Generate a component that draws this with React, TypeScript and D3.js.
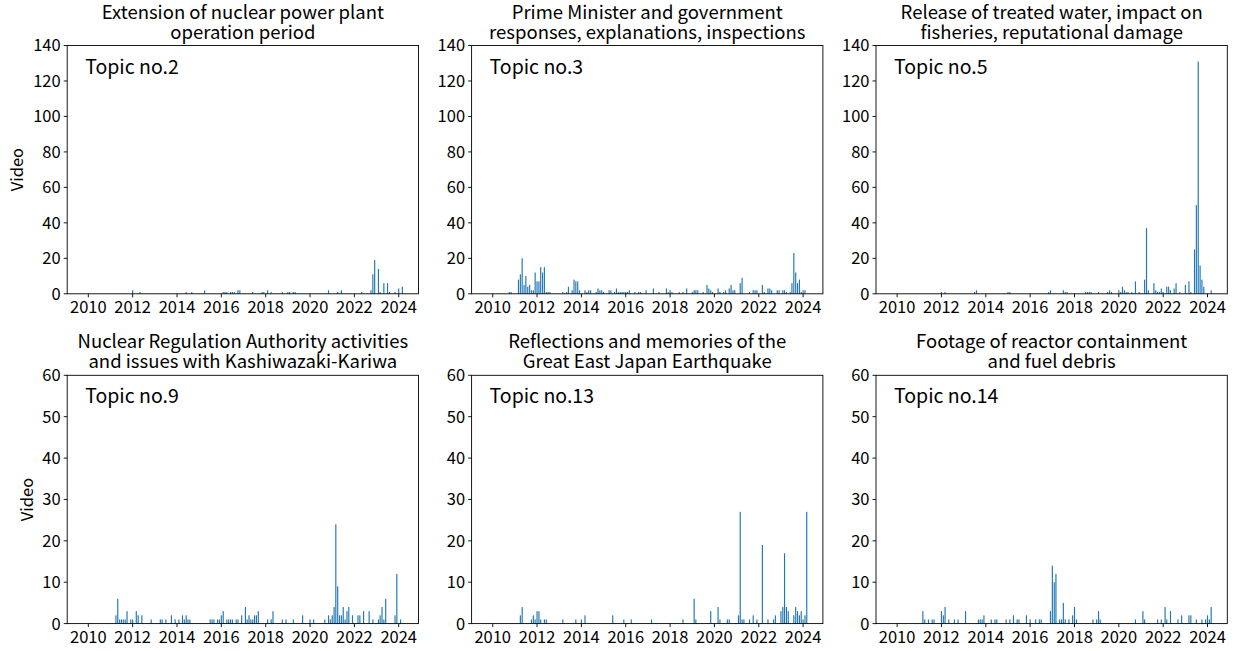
import React from "react";
import * as d3 from "d3";

type P = [string, number];

const topic2: P[] = [
  ["2012-01", 2], ["2012-05", 1], ["2014-06", 1], ["2014-09", 1], ["2015-04", 2],
  ["2016-02", 1], ["2016-03", 1], ["2016-04", 1], ["2016-06", 1], ["2016-07", 1], ["2016-08", 1],
  ["2016-10", 2], ["2016-11", 2], ["2017-06", 1], ["2017-11", 1], ["2017-12", 1], ["2018-02", 2],
  ["2018-04", 1], ["2018-10", 1], ["2019-01", 1], ["2019-02", 1], ["2019-04", 1], ["2019-05", 1],
  ["2020-11", 2], ["2021-04", 1], ["2021-06", 2], ["2022-05", 1], ["2022-10", 2], ["2022-11", 11],
  ["2022-12", 19], ["2023-02", 14], ["2023-03", 1], ["2023-05", 6], ["2023-07", 6], ["2023-08", 1],
  ["2023-11", 1], ["2024-01", 3], ["2024-03", 4],
];

const topic3: P[] = [
  ["2010-10", 1], ["2010-11", 1], ["2011-03", 8], ["2011-04", 11], ["2011-05", 20], ["2011-06", 5],
  ["2011-07", 10], ["2011-08", 4], ["2011-09", 5], ["2011-10", 2], ["2011-11", 2], ["2011-12", 12],
  ["2012-01", 7], ["2012-02", 7], ["2012-03", 15], ["2012-04", 12], ["2012-05", 15], ["2012-06", 1],
  ["2012-07", 1], ["2012-08", 1], ["2013-03", 1], ["2013-05", 1], ["2013-06", 4], ["2013-08", 2],
  ["2013-09", 8], ["2013-10", 7], ["2013-11", 7], ["2013-12", 2], ["2014-03", 2], ["2014-04", 1],
  ["2014-05", 2], ["2014-06", 2], ["2014-09", 1], ["2014-10", 3], ["2014-11", 2], ["2014-12", 2],
  ["2015-01", 1], ["2015-04", 2], ["2015-05", 2], ["2015-07", 1], ["2015-08", 3], ["2015-09", 1],
  ["2015-10", 1], ["2015-11", 1], ["2015-12", 1], ["2016-01", 1], ["2016-02", 1], ["2016-03", 2],
  ["2016-06", 1], ["2016-08", 1], ["2016-09", 1], ["2016-12", 2], ["2017-04", 3], ["2017-07", 1],
  ["2017-11", 3], ["2017-12", 1], ["2018-01", 2], ["2018-02", 1], ["2018-06", 1], ["2018-08", 1],
  ["2018-10", 3], ["2019-01", 1], ["2019-02", 2], ["2019-03", 2], ["2019-04", 2], ["2019-07", 1],
  ["2019-09", 5], ["2019-10", 3], ["2019-11", 2], ["2019-12", 1], ["2020-03", 3], ["2020-04", 1],
  ["2020-06", 1], ["2020-07", 2], ["2020-09", 3], ["2020-10", 5], ["2020-11", 2], ["2020-12", 2],
  ["2021-03", 6], ["2021-04", 9], ["2021-08", 1], ["2021-10", 2], ["2021-11", 2], ["2021-12", 2],
  ["2022-03", 5], ["2022-04", 1], ["2022-06", 3], ["2022-07", 3], ["2022-08", 2], ["2022-11", 2],
  ["2022-12", 2], ["2023-02", 2], ["2023-03", 2], ["2023-04", 1], ["2023-06", 1], ["2023-07", 6],
  ["2023-08", 23], ["2023-09", 12], ["2023-10", 6], ["2023-11", 8], ["2023-12", 1], ["2024-01", 2],
  ["2024-02", 2],
];

const topic5: P[] = [
  ["2012-01", 1], ["2012-03", 1], ["2013-07", 1], ["2013-08", 2], ["2015-01", 1], ["2015-02", 1],
  ["2016-11", 1], ["2016-12", 2], ["2017-07", 2], ["2017-08", 1], ["2017-09", 1], ["2018-07", 1],
  ["2018-08", 1], ["2018-09", 1], ["2018-10", 1], ["2019-02", 1], ["2019-07", 1], ["2019-08", 2],
  ["2019-09", 1], ["2020-01", 2], ["2020-02", 1], ["2020-03", 4], ["2020-04", 2], ["2020-05", 1],
  ["2020-06", 1], ["2020-08", 1], ["2020-10", 7], ["2020-12", 1], ["2021-03", 8], ["2021-04", 37],
  ["2021-05", 2], ["2021-08", 6], ["2021-09", 2], ["2021-10", 1], ["2021-11", 1], ["2021-12", 3],
  ["2022-01", 1], ["2022-03", 4], ["2022-04", 4], ["2022-05", 2], ["2022-07", 3], ["2022-08", 6],
  ["2022-10", 1], ["2023-01", 5], ["2023-03", 7], ["2023-04", 1], ["2023-06", 25], ["2023-07", 50],
  ["2023-08", 131], ["2023-09", 16], ["2023-10", 8], ["2023-11", 4], ["2024-03", 2],
];

const topic9: P[] = [
  ["2011-04", 2], ["2011-05", 6], ["2011-06", 1], ["2011-07", 1], ["2011-08", 1], ["2011-09", 1],
  ["2011-10", 3], ["2011-12", 1], ["2012-01", 1], ["2012-03", 3], ["2012-04", 2], ["2012-06", 2],
  ["2012-11", 1], ["2013-04", 1], ["2013-05", 1], ["2013-07", 1], ["2013-10", 2], ["2013-12", 1],
  ["2014-02", 1], ["2014-04", 2], ["2014-05", 1], ["2014-06", 2], ["2014-07", 1], ["2014-08", 1],
  ["2015-07", 1], ["2015-08", 1], ["2015-09", 1], ["2015-11", 1], ["2015-12", 1], ["2016-01", 2],
  ["2016-02", 3], ["2016-04", 1], ["2016-05", 1], ["2016-06", 1], ["2016-07", 1], ["2016-09", 1],
  ["2016-10", 1], ["2016-12", 2], ["2017-02", 4], ["2017-03", 1], ["2017-04", 2], ["2017-05", 1],
  ["2017-06", 1], ["2017-07", 2], ["2017-08", 2], ["2017-09", 3], ["2018-02", 1], ["2018-04", 1],
  ["2018-05", 3], ["2018-10", 1], ["2018-12", 1], ["2019-04", 1], ["2019-09", 2], ["2020-01", 1],
  ["2020-03", 1], ["2020-09", 1], ["2020-11", 2], ["2020-12", 1], ["2021-01", 2], ["2021-02", 4],
  ["2021-03", 24], ["2021-04", 9], ["2021-05", 2], ["2021-06", 2], ["2021-07", 4], ["2021-08", 1],
  ["2021-09", 3], ["2021-10", 4], ["2021-12", 2], ["2022-03", 2], ["2022-04", 2], ["2022-06", 3],
  ["2022-09", 3], ["2022-11", 1], ["2023-02", 1], ["2023-03", 2], ["2023-04", 4], ["2023-05", 1],
  ["2023-06", 6], ["2023-11", 2], ["2023-12", 12], ["2024-02", 1],
];

const topic13: P[] = [
  ["2011-04", 2], ["2011-05", 4], ["2011-10", 1], ["2011-11", 2], ["2011-12", 1], ["2012-01", 3],
  ["2012-02", 3], ["2012-03", 1], ["2012-05", 1], ["2012-06", 1], ["2013-03", 1], ["2013-10", 1],
  ["2014-01", 1], ["2014-03", 2], ["2015-06", 2], ["2015-12", 1], ["2016-04", 1], ["2017-03", 1],
  ["2018-08", 1], ["2019-02", 6], ["2019-03", 1], ["2019-11", 3], ["2020-03", 4], ["2020-04", 1],
  ["2020-08", 1], ["2020-09", 1], ["2021-02", 2], ["2021-03", 27], ["2021-04", 1], ["2021-05", 1],
  ["2021-08", 1], ["2021-10", 2], ["2021-12", 1], ["2022-03", 19], ["2022-06", 1], ["2022-09", 1],
  ["2022-10", 2], ["2023-01", 3], ["2023-02", 4], ["2023-03", 17], ["2023-04", 4], ["2023-05", 3],
  ["2023-08", 2], ["2023-09", 4], ["2023-10", 3], ["2023-11", 2], ["2023-12", 3], ["2024-01", 1],
  ["2024-02", 2], ["2024-03", 27],
];

const topic14: P[] = [
  ["2011-03", 3], ["2011-04", 1], ["2011-06", 1], ["2011-08", 1], ["2011-09", 1], ["2012-01", 3],
  ["2012-02", 2], ["2012-03", 4], ["2012-05", 1], ["2012-08", 1], ["2012-10", 1], ["2013-02", 3],
  ["2013-09", 1], ["2013-10", 1], ["2013-11", 1], ["2013-12", 2], ["2014-04", 1], ["2014-06", 1],
  ["2014-07", 1], ["2014-12", 1], ["2015-02", 1], ["2015-04", 2], ["2015-06", 1], ["2015-07", 1],
  ["2015-11", 2], ["2016-01", 1], ["2016-04", 1], ["2016-06", 1], ["2016-07", 1], ["2016-12", 3],
  ["2017-01", 14], ["2017-02", 10], ["2017-03", 12], ["2017-05", 1], ["2017-06", 1], ["2017-07", 5],
  ["2017-08", 1], ["2017-10", 1], ["2017-12", 2], ["2018-01", 4], ["2018-02", 1], ["2018-11", 1],
  ["2019-01", 1], ["2019-02", 3], ["2019-03", 1], ["2020-10", 1], ["2021-02", 3], ["2021-03", 1],
  ["2021-10", 1], ["2021-12", 1], ["2022-02", 4], ["2022-03", 1], ["2022-05", 3], ["2022-09", 1],
  ["2022-11", 2], ["2023-03", 2], ["2023-04", 2], ["2023-07", 1], ["2023-10", 1], ["2023-12", 1],
  ["2024-01", 2], ["2024-02", 1], ["2024-03", 4],
];

const panelTitles: string[][] = [
  ["Extension of nuclear power plant", "operation period"],
  ["Prime Minister and government", "responses, explanations, inspections"],
  ["Release of treated water, impact on", "fisheries, reputational damage"],
  ["Nuclear Regulation Authority activities", "and issues with Kashiwazaki-Kariwa"],
  ["Reflections and memories of the", "Great East Japan Earthquake"],
  ["Footage of reactor containment", "and fuel debris"],
];
const topicLabels = ["Topic no.2", "Topic no.3", "Topic no.5", "Topic no.9", "Topic no.13", "Topic no.14"];
const topicData = [topic2, topic3, topic5, topic9, topic13, topic14];
const yearTicks = [2010, 2012, 2014, 2016, 2018, 2020, 2022, 2024];
const rowYMax = [140, 60];
const rowYStep = [20, 10];

const W = 1241;
const H = 651;
const colLeft = [67.2, 471.6, 876.0];
const rowTop = [45.5, 375.3];
const PW = 351.3;
const PH = 248.3;
const FONT = "'Noto Sans CJK JP', 'Noto Sans', sans-serif";
const BAR = "#1f77b4";

const parseMonth = d3.timeParse("%Y-%m");
const xDomain: [Date, Date] = [new Date(2009, 0, 18), new Date(2024, 10, 22)];

function Panel({ idx }: { idx: number }) {
  const row = Math.floor(idx / 3);
  const col = idx % 3;
  const left = colLeft[col];
  const top = rowTop[row];
  const x = d3.scaleTime().domain(xDomain).range([left, left + PW]);
  const y = d3.scaleLinear().domain([0, rowYMax[row]]).range([top + PH, top]);
  const yTicks = d3.range(0, rowYMax[row] + 1, rowYStep[row]);
  const barW = x(new Date(2010, 0, 20)) - x(new Date(2010, 0, 1));
  const data = topicData[idx];
  const cx = left + PW / 2;
  const titleY = row === 0 ? 18.5 : 347.5;
  return (
    <g>
      <text x={cx} y={titleY} textAnchor="middle" fontSize={18.5} fontFamily={FONT} fill="#000">
        {panelTitles[idx][0]}
      </text>
      <text x={cx} y={titleY + 20} textAnchor="middle" fontSize={18.5} fontFamily={FONT} fill="#000">
        {panelTitles[idx][1]}
      </text>
      {data.map(([m, v], i) => {
        const d = parseMonth(m) as Date;
        const bx = x(d) - barW / 2;
        return <rect key={i} x={bx} y={y(v)} width={barW} height={y(0) - y(v)} fill={BAR} />;
      })}
      <rect x={left} y={top} width={PW} height={PH} fill="none" stroke="#000" strokeWidth={0.9} />
      {yTicks.map((t) => (
        <g key={t}>
          <line x1={left - 3.5} x2={left} y1={y(t)} y2={y(t)} stroke="#000" strokeWidth={0.9} />
          <text x={left - 6.5} y={y(t)} dy="0.36em" textAnchor="end" fontSize={16.5} fontFamily={FONT} fill="#000">
            {t}
          </text>
        </g>
      ))}
      {yearTicks.map((yr) => {
        const tx = x(new Date(yr, 0, 1));
        return (
          <g key={yr}>
            <line x1={tx} x2={tx} y1={top + PH} y2={top + PH + 3.5} stroke="#000" strokeWidth={0.9} />
            <text x={tx} y={top + PH + 19.5} textAnchor="middle" fontSize={16.5} fontFamily={FONT} fill="#000">
              {yr}
            </text>
          </g>
        );
      })}
      <text x={left + 18} y={top + 28} fontSize={19.5} fontFamily={FONT} fill="#000">
        {topicLabels[idx]}
      </text>
      {col === 0 && (
        <text
          transform={`translate(${row === 0 ? 17 : 27},${top + PH / 2}) rotate(-90)`}
          textAnchor="middle"
          dy="0.36em"
          fontSize={16.5}
          fontFamily={FONT}
          fill="#000"
        >
          Video
        </text>
      )}
    </g>
  );
}

export default function App() {
  return (
    <svg width={W} height={H} style={{ display: "block", position: "absolute", left: 0, top: 0, background: "#fff" }}>
      <rect width={W} height={H} fill="#fff" />
      {[0, 1, 2, 3, 4, 5].map((i) => (
        <Panel key={i} idx={i} />
      ))}
    </svg>
  );
}
